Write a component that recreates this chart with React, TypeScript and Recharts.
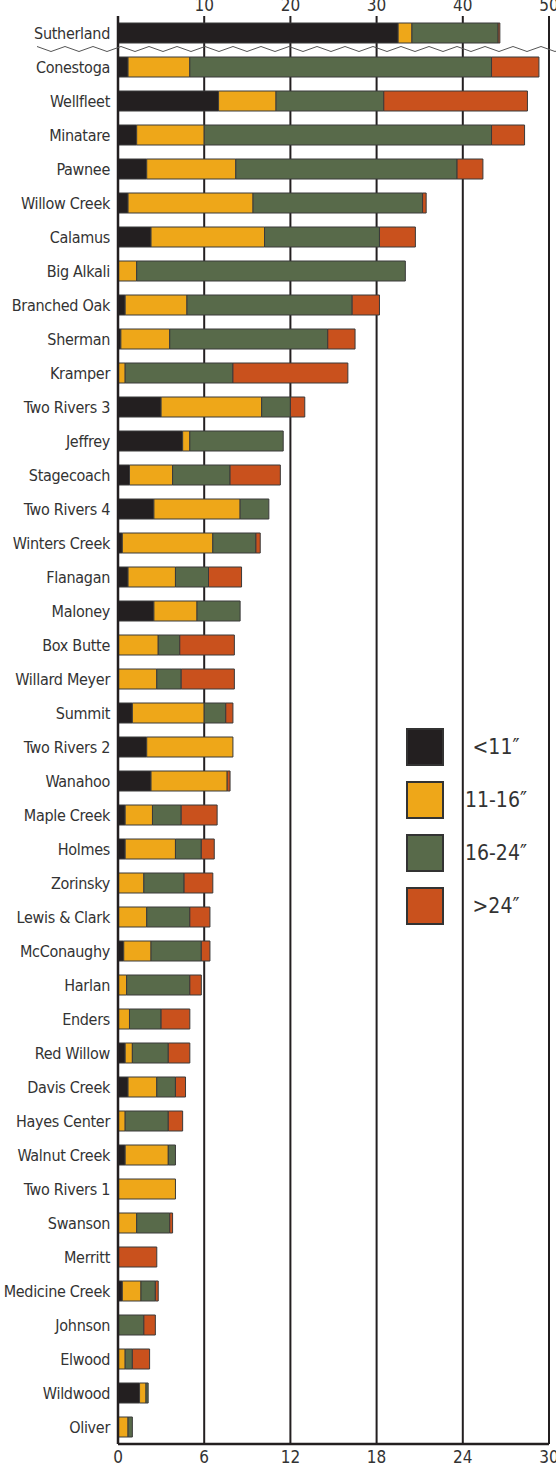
import { BarChart, Bar, XAxis, YAxis, CartesianGrid, Legend } from "recharts";

// inches of fish length by size class, per lake (bottom scale 0-30)
const lakes = [
  "Conestoga", "Wellfleet", "Minatare", "Pawnee", "Willow Creek", "Calamus",
  "Big Alkali", "Branched Oak", "Sherman", "Kramper", "Two Rivers 3", "Jeffrey",
  "Stagecoach", "Two Rivers 4", "Winters Creek", "Flanagan", "Maloney",
  "Box Butte", "Willard Meyer", "Summit", "Two Rivers 2", "Wanahoo",
  "Maple Creek", "Holmes", "Zorinsky", "Lewis & Clark", "McConaughy", "Harlan",
  "Enders", "Red Willow", "Davis Creek", "Hayes Center", "Walnut Creek",
  "Two Rivers 1", "Swanson", "Merritt", "Medicine Creek", "Johnson", "Elwood",
  "Wildwood", "Oliver",
];
const under11 = [
  0.7, 7.0, 1.3, 2.0, 0.7, 2.3, 0, 0.5, 0.2, 0, 3.0, 4.5, 0.8, 2.5, 0.3, 0.7,
  2.5, 0, 0, 1.0, 2.0, 2.3, 0.5, 0.5, 0, 0, 0.4, 0, 0, 0.5, 0.7, 0, 0.5, 0, 0,
  0, 0.3, 0, 0, 1.5, 0,
];
const from11to16 = [
  4.3, 4.0, 4.7, 6.2, 8.7, 7.9, 1.3, 4.3, 3.4, 0.5, 7.0, 0.5, 3.0, 6.0, 6.3, 3.3,
  3.0, 2.8, 2.7, 5.0, 6.0, 5.3, 1.9, 3.5, 1.8, 2.0, 1.9, 0.6, 0.8, 0.5, 2.0, 0.5,
  3.0, 4.0, 1.3, 0, 1.3, 0, 0.5, 0.45, 0.7,
];
const from16to24 = [
  21.0, 7.5, 20.0, 15.4, 11.8, 8.0, 18.7, 11.5, 11.0, 7.5, 2.0, 6.5, 4.0, 2.0,
  3.0, 2.3, 3.0, 1.5, 1.7, 1.5, 0, 0, 2.0, 1.8, 2.8, 3.0, 3.5, 4.4, 2.2, 2.5,
  1.3, 3.0, 0.5, 0, 2.3, 0, 1.0, 1.8, 0.5, 0.15, 0.3,
];
const over24 = [
  3.3, 10.0, 2.3, 1.8, 0.25, 2.5, 0, 1.9, 1.9, 8.0, 1.0, 0, 3.5, 0, 0.3, 2.3, 0,
  3.8, 3.7, 0.5, 0, 0.2, 2.5, 0.9, 2.0, 1.4, 0.6, 0.8, 2.0, 1.5, 0.7, 1.0, 0,
  0, 0.2, 2.7, 0.2, 0.8, 1.2, 0, 0,
];

// Sutherland is read on the top scale (0-50)
const sutherlandName = "Sutherland";
const sutherland = [32.5, 1.6, 10.0, 0.2];

const bottomTicks = [0, 6, 12, 18, 24, 30];
const topTicks = [10, 20, 30, 40, 50];
const legendLabels = ["<11\u2033", "11-16\u2033", "16-24\u2033", ">24\u2033"];
const colors = ["#231f20", "#eea719", "#586a4a", "#c9511d"];

const keys = ["a", "b", "c", "d"];

const data = [
  {
    name: sutherlandName,
    a: 0, b: 0, c: 0, d: 0,
    ta: sutherland[0], tb: sutherland[1], tc: sutherland[2], td: sutherland[3],
  },
  ...lakes.map((name, i) => ({
    name,
    a: under11[i],
    b: from11to16[i],
    c: from16to24[i],
    d: over24[i],
    ta: 0, tb: 0, tc: 0, td: 0,
  })),
];

const W = 556;
const H = 1470;
const TOP_AXIS_H = 16;
const BAND = 34;
const FONT = "'Liberation Sans Narrow', 'DejaVu Sans Condensed', 'Arial Narrow', sans-serif";

const zigzag = () => {
  const y = TOP_AXIS_H + BAND - 1;
  const pts: string[] = [];
  for (let x = 37, k = 0; x <= W + 14; x += 14, k++) {
    pts.push(`${x},${y + (k % 2 === 0 ? -2.5 : 2.5)}`);
  }
  return pts.join(" ");
};

const TopTick = (props: any) => {
  const { x, payload } = props;
  return (
    <text x={x} y={11} textAnchor="middle" fontSize={17} fill="#333" fontFamily={FONT}>
      {payload.value}
    </text>
  );
};

const LegendBox = () => (
  <div style={{ fontFamily: FONT }}>
    {legendLabels.map((label, i) => (
      <div key={label} style={{ display: "flex", alignItems: "center", height: 53 }}>
        <div
          style={{
            width: 34,
            height: 34,
            background: colors[i],
            border: "2px solid #333",
          }}
        />
        <div style={{ width: 104, textAlign: "center", fontSize: 21, color: "#333" }}>
          {label}
        </div>
      </div>
    ))}
  </div>
);

export default function App() {
  return (
    <div style={{ position: "relative", width: W, height: H, background: "#fff" }}>
      <style>{"body{margin:0}"}</style>
      <BarChart
        width={W}
        height={H}
        data={data}
        layout="vertical"
        barSize={20}
        margin={{ top: 0, right: 7, left: 0, bottom: 0 }}
      >
        <CartesianGrid
          xAxisId="bottom"
          horizontal={false}
          stroke="#231f20"
          strokeWidth={2}
          verticalValues={bottomTicks}
        />
        <XAxis
          xAxisId="bottom"
          type="number"
          orientation="bottom"
          domain={[0, 30]}
          ticks={bottomTicks}
          interval={0}
          height={H - TOP_AXIS_H - BAND * data.length}
          axisLine={{ stroke: "#231f20", strokeWidth: 2.5 }}
          tickLine={false}
          tick={{ fill: "#333", fontSize: 17, fontFamily: FONT }}
          tickMargin={1}
        />
        <XAxis
          xAxisId="top"
          type="number"
          orientation="top"
          domain={[0, 50]}
          ticks={topTicks}
          interval={0}
          height={TOP_AXIS_H}
          axisLine={false}
          tickLine={false}
          tick={<TopTick />}
        />
        <YAxis
          type="category"
          dataKey="name"
          width={118}
          interval={0}
          axisLine={{ stroke: "#231f20", strokeWidth: 2.5 }}
          tickLine={false}
          tick={{ fill: "#333", fontSize: 16, fontFamily: FONT, letterSpacing: -0.3 }}
        />
        {keys.map((k, i) => (
          <Bar
            key={k}
            dataKey={k}
            xAxisId="bottom"
            stackId="s"
            fill={colors[i]}
            stroke="#3a3a3a"
            strokeWidth={1}
            isAnimationActive={false}
          />
        ))}
        {keys.map((k, i) => (
          <Bar
            key={"t" + k}
            dataKey={"t" + k}
            xAxisId="top"
            stackId="s"
            fill={colors[i]}
            stroke="#3a3a3a"
            strokeWidth={1}
            isAnimationActive={false}
          />
        ))}
        <Legend
          layout="vertical"
          align="center"
          verticalAlign="middle"
          content={<LegendBox />}
          wrapperStyle={{ left: 406, top: 720, width: 150, height: 212 }}
        />
      </BarChart>
      <svg
        width={W}
        height={H}
        style={{ position: "absolute", left: 0, top: 0, pointerEvents: "none" }}
      >
        <polyline points={zigzag()} fill="none" stroke="#555" strokeWidth={1} />
      </svg>
    </div>
  );
}
